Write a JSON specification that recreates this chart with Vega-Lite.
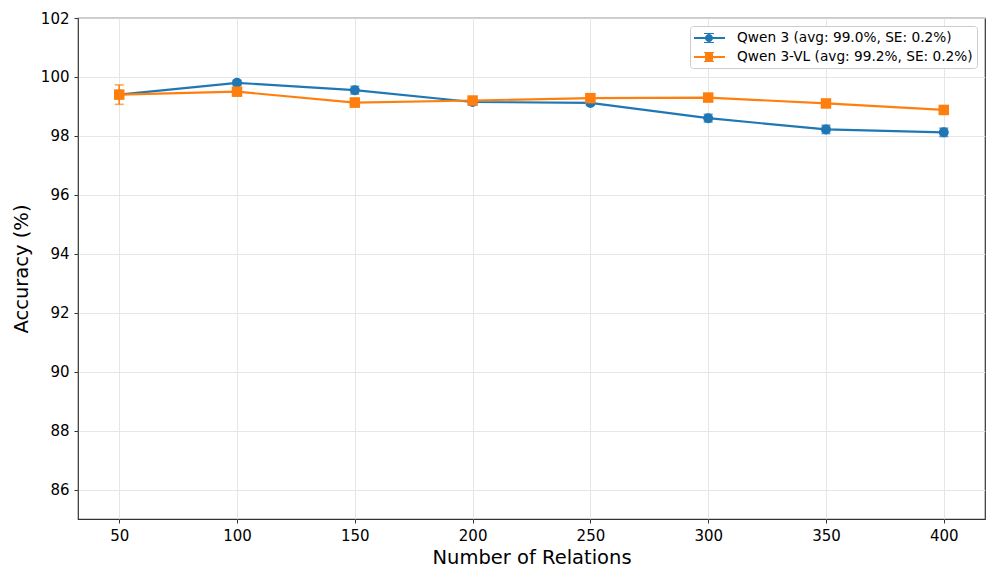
{
  "$schema": "https://vega.github.io/schema/vega-lite/v6.json",
  "width": 907,
  "height": 501,
  "autosize": {"type": "none"},
  "padding": {"left": 78, "top": 18, "right": 11, "bottom": 62},
  "background": "white",
  "config": {
    "font": "DejaVu Sans",
    "view": {"stroke": "#333333", "strokeWidth": 1.2},
    "axis": {
      "domain": false,
      "tickColor": "#333333",
      "tickSize": 4,
      "tickWidth": 1,
      "labelFont": "DejaVu Sans",
      "labelFontSize": 15,
      "labelColor": "#000000",
      "labelPadding": 5,
      "titleFont": "DejaVu Sans",
      "titleFontSize": 19.5,
      "titleFontWeight": "normal",
      "titleColor": "#000000",
      "gridColor": "#e3e3e3",
      "gridWidth": 0.9
    }
  },
  "data": {
    "values": [
      {"series": "Qwen 3", "x": 50, "y": 99.40, "lo": 99.30, "hi": 99.50},
      {"series": "Qwen 3", "x": 100, "y": 99.80, "lo": 99.72, "hi": 99.88},
      {"series": "Qwen 3", "x": 150, "y": 99.55, "lo": 99.42, "hi": 99.68},
      {"series": "Qwen 3", "x": 200, "y": 99.15, "lo": 99.05, "hi": 99.25},
      {"series": "Qwen 3", "x": 250, "y": 99.12, "lo": 99.04, "hi": 99.20},
      {"series": "Qwen 3", "x": 300, "y": 98.60, "lo": 98.47, "hi": 98.73},
      {"series": "Qwen 3", "x": 350, "y": 98.22, "lo": 98.08, "hi": 98.36},
      {"series": "Qwen 3", "x": 400, "y": 98.12, "lo": 97.98, "hi": 98.26},
      {"series": "Qwen 3-VL", "x": 50, "y": 99.40, "lo": 99.07, "hi": 99.73},
      {"series": "Qwen 3-VL", "x": 100, "y": 99.50, "lo": 99.40, "hi": 99.60},
      {"series": "Qwen 3-VL", "x": 150, "y": 99.13, "lo": 98.98, "hi": 99.28},
      {"series": "Qwen 3-VL", "x": 200, "y": 99.20, "lo": 99.10, "hi": 99.30},
      {"series": "Qwen 3-VL", "x": 250, "y": 99.28, "lo": 99.20, "hi": 99.36},
      {"series": "Qwen 3-VL", "x": 300, "y": 99.30, "lo": 99.24, "hi": 99.36},
      {"series": "Qwen 3-VL", "x": 350, "y": 99.10, "lo": 99.04, "hi": 99.16},
      {"series": "Qwen 3-VL", "x": 400, "y": 98.88, "lo": 98.82, "hi": 98.94}
    ]
  },
  "encoding": {
    "x": {
      "field": "x", "type": "quantitative",
      "scale": {"domain": [32.5, 417.5], "nice": false, "zero": false},
      "axis": {"title": "Number of Relations", "values": [50, 100, 150, 200, 250, 300, 350, 400], "titlePadding": 5}
    },
    "y": {
      "field": "y", "type": "quantitative",
      "scale": {"domain": [85, 102], "nice": false, "zero": false},
      "axis": {"title": "Accuracy (%)", "values": [86, 88, 90, 92, 94, 96, 98, 100, 102], "titlePadding": 9}
    }
  },
  "layer": [
    {
      "transform": [{"filter": "datum.series == 'Qwen 3'"}],
      "layer": [
        {"mark": {"type": "rule", "color": "#1f77b4", "strokeWidth": 1.6}, "encoding": {"y": {"field": "lo", "type": "quantitative"}, "y2": {"field": "hi"}}},
        {"mark": {"type": "tick", "orient": "horizontal", "color": "#1f77b4", "size": 9, "thickness": 1.6}, "encoding": {"y": {"field": "lo", "type": "quantitative"}}},
        {"mark": {"type": "tick", "orient": "horizontal", "color": "#1f77b4", "size": 9, "thickness": 1.6}, "encoding": {"y": {"field": "hi", "type": "quantitative"}}},
        {"mark": {"type": "line", "color": "#1f77b4", "strokeWidth": 2.2}, "encoding": {}},
        {"mark": {"type": "point", "shape": "circle", "filled": true, "opacity": 1, "color": "#1f77b4", "size": 100}, "encoding": {}}
      ]
    },
    {
      "transform": [{"filter": "datum.series == 'Qwen 3-VL'"}],
      "layer": [
        {"mark": {"type": "rule", "color": "#ff7f0e", "strokeWidth": 1.6}, "encoding": {"y": {"field": "lo", "type": "quantitative"}, "y2": {"field": "hi"}}},
        {"mark": {"type": "tick", "orient": "horizontal", "color": "#ff7f0e", "size": 9, "thickness": 1.6}, "encoding": {"y": {"field": "lo", "type": "quantitative"}}},
        {"mark": {"type": "tick", "orient": "horizontal", "color": "#ff7f0e", "size": 9, "thickness": 1.6}, "encoding": {"y": {"field": "hi", "type": "quantitative"}}},
        {"mark": {"type": "line", "color": "#ff7f0e", "strokeWidth": 2.2}, "encoding": {}},
        {"mark": {"type": "point", "shape": "square", "filled": true, "opacity": 1, "color": "#ff7f0e", "size": 110}, "encoding": {}}
      ]
    },
    {
      "mark": {"type": "point", "filled": true, "size": 0, "opacity": 1},
      "encoding": {
        "color": {
          "field": "series", "type": "nominal",
          "scale": {"domain": ["Qwen 3", "Qwen 3-VL"], "range": ["#1f77b4", "#ff7f0e"]},
          "legend": {
            "title": null,
            "orient": "top-right",
            "offset": 8,
            "padding": 4,
            "rowPadding": 4,
            "symbolSize": 256,
            "symbolStrokeWidth": 0,
            "symbolOpacity": 1,
            "labelOffset": 27,
            "labelFontSize": 13.7,
            "labelLimit": 400,
            "labelFont": "DejaVu Sans",
            "labelColor": "#000000",
            "strokeColor": "#cccccc",
            "fillColor": "white",
            "cornerRadius": 3,
            "labelExpr": "datum.label == 'Qwen 3' ? 'Qwen 3 (avg: 99.0%, SE: 0.2%)' : 'Qwen 3-VL (avg: 99.2%, SE: 0.2%)'"
          }
        },
        "shape": {
          "field": "series", "type": "nominal",
          "scale": {
            "domain": ["Qwen 3", "Qwen 3-VL"],
            "range": [
              "M-1,-0.125H2.875V0.125H-1Z M0.8,-0.55H0.95V0.55H0.8Z M0.25,-0.62H1.5V-0.5H0.25Z M0.25,0.5H1.5V0.62H0.25Z M1.375,0A0.5,0.5,0,1,1,0.375,0A0.5,0.5,0,1,1,1.375,0Z",
              "M-1,-0.125H2.875V0.125H-1Z M0.8,-0.55H0.95V0.55H0.8Z M0.25,-0.62H1.5V-0.5H0.25Z M0.25,0.5H1.5V0.62H0.25Z M0.375,-0.5H1.375V0.5H0.375Z"
            ]
          }
        }
      }
    }
  ]
}
